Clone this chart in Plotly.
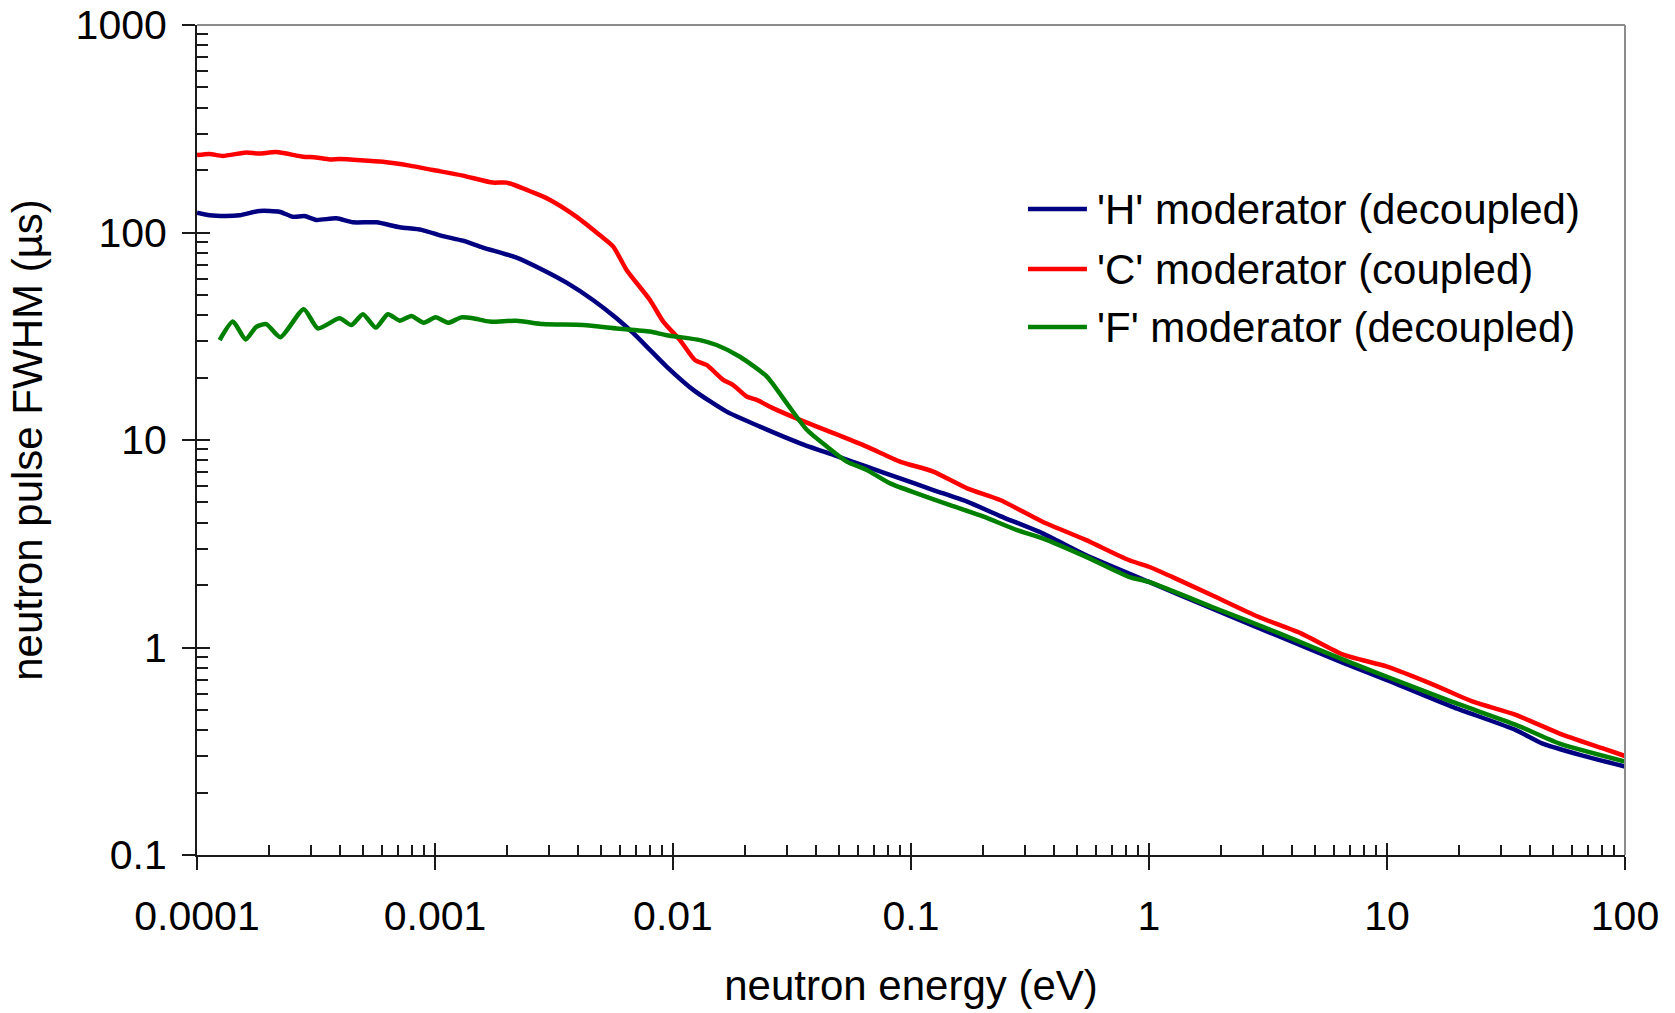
import plotly.graph_objects as go

# ---- measured pulse widths (FWHM, microseconds) versus neutron energy (eV) ----
h_energy = [1.00e-4, 1.13e-4, 1.32e-4, 1.51e-4, 1.83e-4, 2.22e-4, 2.53e-4, 2.83e-4,
            3.17e-4, 3.85e-4, 4.52e-4, 5.68e-4, 7.11e-4, 8.77e-4, 1.08e-3, 1.31e-3,
            1.59e-3, 2.20e-3, 2.84e-3, 3.57e-3, 4.61e-3, 5.79e-3, 6.81e-3, 8.00e-3,
            9.40e-3, 0.0122, 0.0168, 0.0232, 0.0342, 0.0472, 0.0652, 0.0900,
            0.124, 0.172, 0.237, 0.357, 0.542, 1.0, 1.89, 3.53,
            6.59, 10.0, 18.7, 34.8, 44.8, 65.2, 100.0]
h_fwhm = [124.6, 121, 120, 121, 127, 126, 119, 120,
          115, 117, 112, 112, 106, 103, 96, 91.3,
          84.6, 75.7, 66, 57.3, 47.3, 38.6, 32.7, 27.2,
          22.6, 17.4, 13.7, 11.6, 9.64, 8.47, 7.44, 6.53,
          5.74, 5.05, 4.30, 3.55, 2.79, 2.07, 1.52, 1.13,
          0.84, 0.697, 0.519, 0.40, 0.345, 0.303, 0.267]

c_energy = [1.00e-4, 1.13e-4, 1.285e-4, 1.61e-4, 1.82e-4, 2.15e-4, 2.79e-4, 3.16e-4,
            3.61e-4, 3.98e-4, 6.04e-4, 7.83e-4, 9.82e-4, 1.31e-3, 1.75e-3, 2.00e-3,
            2.58e-3, 3.03e-3, 3.94e-3, 4.93e-3, 5.61e-3, 6.38e-3, 8.00e-3, 9.10e-3,
            0.0107, 0.01236, 0.01384, 0.01626, 0.0179, 0.0204, 0.0225, 0.0264,
            0.0342, 0.0472, 0.0652, 0.0899, 0.124, 0.172, 0.237, 0.357,
            0.542, 0.822, 1.0, 1.25, 1.89, 2.86, 4.35, 6.59,
            10.0, 15.2, 23.0, 34.8, 52.8, 80.2, 100.0]
c_fwhm = [236, 239, 234, 243, 240, 244, 232, 230,
          225, 226, 219, 210, 200, 188, 174, 174,
          156, 144, 119, 97, 85.5, 66, 47.3, 37.2,
          30.3, 24.3, 23.0, 19.5, 18.4, 16.2, 15.6, 14.2,
          12.5, 10.8, 9.29, 7.87, 7.04, 5.85, 5.14, 4.04,
          3.30, 2.64, 2.45, 2.19, 1.76, 1.41, 1.17, 0.921,
          0.809, 0.672, 0.548, 0.473, 0.386, 0.327, 0.300]

f_energy = [1.245e-4, 1.416e-4, 1.60e-4, 1.774e-4, 1.954e-4, 2.24e-4, 2.81e-4, 3.22e-4,
            3.97e-4, 4.45e-4, 4.98e-4, 5.64e-4, 6.34e-4, 7.11e-4, 7.96e-4, 8.97e-4,
            1.007e-3, 1.135e-3, 1.29e-3, 1.445e-3, 1.70e-3, 2.20e-3, 2.84e-3, 4.19e-3,
            5.79e-3, 8.00e-3, 9.40e-3, 0.01297, 0.01524, 0.0191, 0.0248, 0.0301,
            0.0365, 0.0443, 0.0537, 0.0652, 0.0817, 0.1057, 0.146, 0.202,
            0.279, 0.357, 0.542, 0.822, 1.0, 1.89, 3.53, 6.59,
            10.0, 18.7, 34.8, 52.8, 100.0]
f_fwhm = [30.3, 37.2, 30.5, 35.1, 36.2, 31.3, 42.7, 34.5,
          38.6, 35.8, 40.4, 34.8, 40.4, 37.6, 39.6, 36.7,
          39.0, 36.7, 39.0, 38.6, 37.2, 37.6, 36.2, 35.8,
          34.5, 33.3, 32.0, 30.3, 28.7, 25.2, 20.2, 15.0,
          11.2, 9.3, 7.87, 7.17, 6.18, 5.53, 4.86, 4.27,
          3.68, 3.36, 2.74, 2.19, 2.07, 1.55, 1.17, 0.871,
          0.723, 0.548, 0.424, 0.345, 0.282]

series_names = ["'H' moderator (decoupled)", "'C' moderator (coupled)", "'F' moderator (decoupled)"]
series_colors = ["#000080", "#FF0000", "#008000"]

x_tickvals = [1e-4, 1e-3, 1e-2, 1e-1, 1, 10, 100]
x_ticktext = ["0.0001", "0.001", "0.01", "0.1", "1", "10", "100"]
y_tickvals = [0.1, 1, 10, 100, 1000]
y_ticktext = ["0.1", "1", "10", "100", "1000"]

FONT = "Liberation Sans, Arial, sans-serif"
AXIS_COLOR = "#1a1a1a"

x_minor = [m * 10.0 ** p for p in range(-4, 2) for m in range(2, 10)]
y_minor = [m * 10.0 ** p for p in range(-1, 3) for m in range(2, 10)]

fig = go.Figure()
for xs, ys, name, col in zip([h_energy, c_energy, f_energy], [h_fwhm, c_fwhm, f_fwhm],
                             series_names, series_colors):
    fig.add_trace(go.Scatter(x=xs, y=ys, mode="lines", name=name,
                             line=dict(color=col, width=4.5, shape="spline", smoothing=0.6),
                             showlegend=False))

# empty trace carrying the overlay axes that draw the inner half of the major ticks
fig.add_trace(go.Scatter(x=[1], y=[1], xaxis="x2", yaxis="y2", mode="markers",
                         marker=dict(opacity=0), showlegend=False, hoverinfo="skip"))

fig.update_layout(
    width=1675, height=1013,
    margin=dict(l=197, r=50, t=25, b=158, autoexpand=False),
    paper_bgcolor="white", plot_bgcolor="white",
    font=dict(family=FONT, color="black"),
    xaxis=dict(type="log", range=[-4, 2], tickmode="array", automargin=False,
               tickvals=x_tickvals, ticktext=x_ticktext,
               ticks="outside", ticklen=13, tickwidth=1.5, tickcolor=AXIS_COLOR,
               minor=dict(tickmode="array", tickvals=x_minor, ticks="inside",
                          ticklen=10, tickwidth=1.5, tickcolor=AXIS_COLOR, showgrid=False),
               showline=True, linecolor=AXIS_COLOR, linewidth=2,
               showgrid=False, zeroline=False,
               tickfont=dict(size=41, family=FONT), ticklabelstandoff=11,
               title=dict(text="neutron energy (eV)", font=dict(size=42, family=FONT), standoff=32)),
    yaxis=dict(type="log", range=[-1, 3], tickmode="array", automargin=False,
               tickvals=y_tickvals, ticktext=y_ticktext,
               ticks="outside", ticklen=13, tickwidth=1.5, tickcolor=AXIS_COLOR,
               minor=dict(tickmode="array", tickvals=y_minor, ticks="inside",
                          ticklen=11, tickwidth=1.5, tickcolor=AXIS_COLOR, showgrid=False),
               showline=True, linecolor=AXIS_COLOR, linewidth=2,
               showgrid=False, zeroline=False,
               tickfont=dict(size=41, family=FONT), ticklabelstandoff=7,
               title=dict(text="neutron pulse FWHM (\u00b5s)", font=dict(size=42, family=FONT), standoff=20)),
    xaxis2=dict(type="log", range=[-4, 2], overlaying="x", anchor="y2", side="bottom",
                tickmode="array", tickvals=x_tickvals, showticklabels=False, automargin=False,
                ticks="inside", ticklen=12, tickwidth=1.5, tickcolor=AXIS_COLOR,
                showline=False, showgrid=False, zeroline=False),
    yaxis2=dict(type="log", range=[-1, 3], overlaying="y", anchor="x2", side="left",
                tickmode="array", tickvals=y_tickvals, showticklabels=False, automargin=False,
                ticks="inside", ticklen=13, tickwidth=1.5, tickcolor=AXIS_COLOR,
                showline=False, showgrid=False, zeroline=False),
)

# grey frame along the top and right of the plotting area
fig.add_shape(type="line", xref="paper", yref="paper", x0=0, x1=1, y0=1, y1=1,
              line=dict(color="#8c8c8c", width=2))
fig.add_shape(type="line", xref="paper", yref="paper", x0=1, x1=1, y0=0, y1=1,
              line=dict(color="#8c8c8c", width=2))

# key in the upper right
legend_rows_y = [0.7783, 0.7060, 0.6361]
for name, col, yy in zip(series_names, series_colors, legend_rows_y):
    fig.add_shape(type="line", xref="paper", yref="paper", x0=0.5819, x1=0.6232,
                  y0=yy, y1=yy, line=dict(color=col, width=4.5))
    fig.add_annotation(xref="paper", yref="paper", x=0.6290, y=yy,
                       text=name, showarrow=False, xanchor="left", yanchor="middle",
                       font=dict(size=42, family=FONT, color="black"))

fig.write_html("out.html")
